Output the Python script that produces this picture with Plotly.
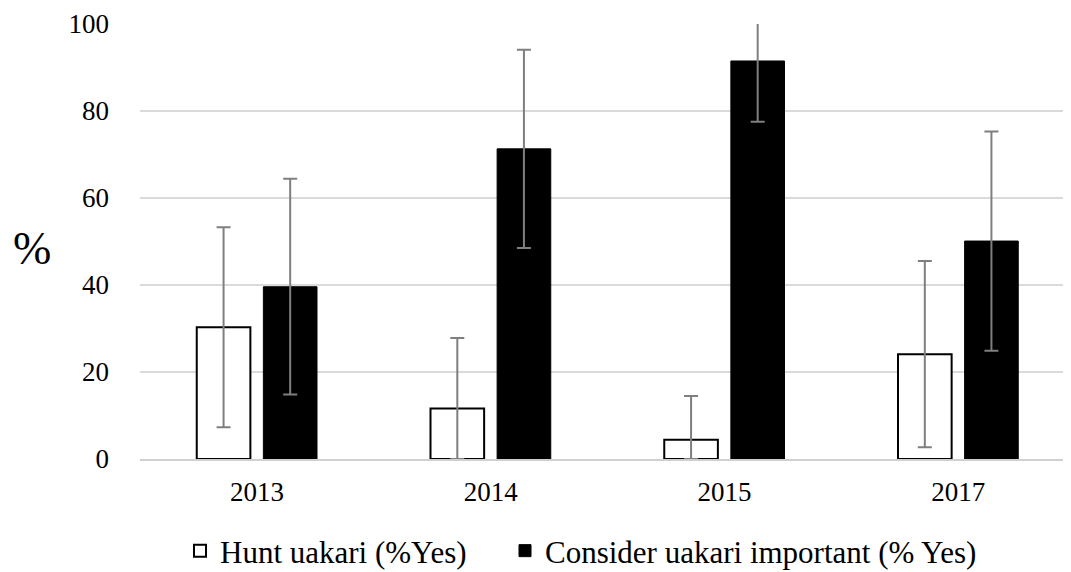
import plotly.graph_objects as go

years = ["2013", "2014", "2015", "2017"]
hunt = [30.3, 11.6, 4.4, 24.1]
hunt_err = [23.0, 16.2, 10.1, 21.4]
consider = [39.6, 71.3, 91.5, 50.1]
consider_err = [24.8, 22.8, 14.0, 25.2]

FONT = "Liberation Serif, Times New Roman, serif"
ERR_COLOR = "#7f7f7f"

hunt_minus = [min(e, v) for e, v in zip(hunt_err, hunt)]

# The page body has an 8px margin, so the figure is sized/offset to compensate.
W, H = 1067, 590
L, R, T, B = 132, 0, 16, 139
plot_w = W - L - R
plot_h = H - T - B

fig = go.Figure()
fig.add_trace(go.Bar(
    x=years, y=hunt, name="Hunt uakari (%Yes)", legend="legend",
    marker=dict(color="white", line=dict(color="black", width=2)),
    error_y=dict(type="data", symmetric=False, array=hunt_err, arrayminus=hunt_minus,
                 color=ERR_COLOR, thickness=2, width=7),
))
fig.add_trace(go.Bar(
    x=years, y=consider, name="Consider uakari important (% Yes)", legend="legend2",
    marker=dict(color="black", line=dict(color="black", width=1)),
    error_y=dict(type="data", symmetric=False, array=consider_err, arrayminus=consider_err,
                 color=ERR_COLOR, thickness=2, width=7),
))

legend_common = dict(orientation="h", xanchor="left", yanchor="middle",
                     y=-(551 - 459) / plot_h, font=dict(family=FONT, size=31),
                     itemwidth=30, bgcolor="rgba(0,0,0,0)")

fig.update_layout(
    width=W, height=H,
    margin=dict(l=L, r=R, t=T, b=B),
    paper_bgcolor="white", plot_bgcolor="white",
    barmode="group", bargap=0.43, bargroupgap=0.195,
    font=dict(family=FONT, size=27, color="black"),
    showlegend=True,
    legend=dict(x=(180 - 8 - L) / plot_w, **legend_common),
    legend2=dict(x=(505 - 8 - L) / plot_w, **legend_common),
    xaxis=dict(showline=True, linecolor="#d0d0d0", linewidth=2, ticks="",
               tickfont=dict(family=FONT, size=27), ticklabelstandoff=8),
    yaxis=dict(range=[0, 100], dtick=20, showgrid=True, gridcolor="#dadada", gridwidth=2,
               zeroline=False, showline=False, ticks="",
               tickfont=dict(family=FONT, size=27), ticklabelstandoff=30),
    annotations=[dict(text="%", x=(32 - 8 - L) / plot_w, y=(459 - 249) / plot_h,
                      xref="paper", yref="paper", xanchor="center", yanchor="middle",
                      showarrow=False, font=dict(family=FONT, size=46))],
)

fig.write_html("out.html")
